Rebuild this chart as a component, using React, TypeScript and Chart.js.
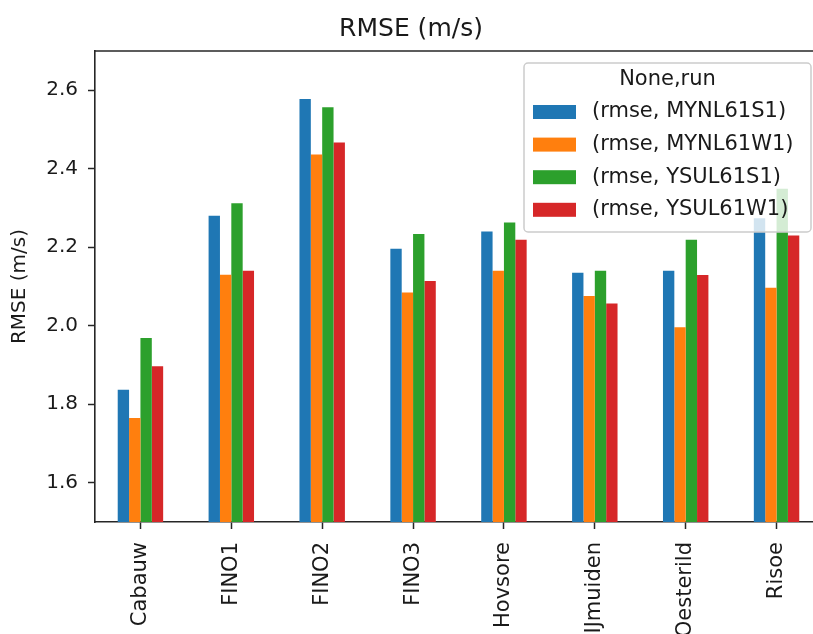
import React, { useEffect, useRef } from 'react';
import { Chart, registerables } from 'chart.js';

Chart.register(...registerables);

const categories = ['Cabauw', 'FINO1', 'FINO2', 'FINO3', 'Hovsore', 'IJmuiden', 'Oesterild', 'Risoe'];
const seriesNames = ['(rmse, MYNL61S1)', '(rmse, MYNL61W1)', '(rmse, YSUL61S1)', '(rmse, YSUL61W1)'];
const mynl61s1 = [1.837, 2.28, 2.578, 2.196, 2.24, 2.135, 2.14, 2.274];
const mynl61w1 = [1.765, 2.13, 2.436, 2.085, 2.14, 2.076, 1.996, 2.097];
const ysul61s1 = [1.969, 2.312, 2.557, 2.234, 2.263, 2.14, 2.219, 2.349];
const ysul61w1 = [1.897, 2.14, 2.467, 2.114, 2.219, 2.057, 2.129, 2.23];
const yTicks = [1.6, 1.8, 2.0, 2.2, 2.4, 2.6];
const yMin = 1.5;
const yMax = 2.7;
const legendTitle = 'None,run';
const chartTitle = 'RMSE (m/s)';
const yTitle = 'RMSE (m/s)';
const colors = ['#1f77b4', '#ff7f0e', '#2ca02c', '#d62728'];

const FONT = '"DejaVu Sans", sans-serif';
const TEXT = '#1a1a1a';
const AXIS = '#262626';

const topSpinePlugin = {
  id: 'topSpine',
  afterDatasetsDraw(chart: any) {
    const { ctx, chartArea: a } = chart;
    ctx.save();
    ctx.strokeStyle = AXIS;
    ctx.lineWidth = 1.6;
    ctx.beginPath();
    ctx.moveTo(a.left, a.top);
    ctx.lineTo(a.right + 2, a.top);
    ctx.stroke();
    ctx.restore();
  },
};

const boxLegendPlugin = {
  id: 'boxLegend',
  afterDraw(chart: any) {
    const { ctx, chartArea: a } = chart;
    const w = 287;
    const h = 169;
    const x = a.right - 11 - w;
    const y = a.top + 12;
    ctx.save();
    ctx.beginPath();
    (ctx as any).roundRect(x, y, w, h, 4);
    ctx.fillStyle = 'rgba(255,255,255,0.8)';
    ctx.fill();
    ctx.strokeStyle = '#cccccc';
    ctx.lineWidth = 1.5;
    ctx.stroke();
    ctx.font = `21px ${FONT}`;
    ctx.fillStyle = TEXT;
    ctx.textAlign = 'center';
    ctx.textBaseline = 'middle';
    ctx.fillText(legendTitle, x + w / 2, y + 17);
    chart.data.datasets.forEach((ds: any, i: number) => {
      const cy = y + 49 + i * 32.6;
      ctx.fillStyle = ds.backgroundColor;
      ctx.fillRect(x + 9, cy - 7, 43, 14);
      ctx.fillStyle = TEXT;
      ctx.textAlign = 'left';
      ctx.fillText(ds.label, x + 68, cy);
    });
    ctx.restore();
  },
};

export default function App() {
  const ref = useRef<HTMLCanvasElement>(null);
  useEffect(() => {
    const seriesValues = [mynl61s1, mynl61w1, ysul61s1, ysul61w1];
    const chart = new Chart(ref.current as HTMLCanvasElement, {
      type: 'bar',
      data: {
        labels: categories,
        datasets: seriesNames.map((name, i) => ({
          label: name,
          data: seriesValues[i],
          backgroundColor: colors[i],
          borderWidth: 0,
          categoryPercentage: 0.5,
          barPercentage: 1.0,
        })),
      },
      options: {
        animation: false,
        responsive: false,
        devicePixelRatio: 1,
        layout: { padding: { left: 0, right: 18, top: 0, bottom: 0 } },
        plugins: {
          legend: { display: false },
          tooltip: { enabled: false },
          title: {
            display: true,
            text: chartTitle,
            color: TEXT,
            font: { family: FONT, size: 25, weight: 'normal' },
            padding: { top: 14, bottom: 7 },
          },
        },
        scales: {
          x: {
            type: 'category',
            offset: true,
            grid: {
              display: true,
              offset: false,
              drawOnChartArea: false,
              drawTicks: true,
              tickLength: 7,
              tickColor: AXIS,
              tickWidth: 1.5,
            },
            border: { display: true, color: AXIS, width: 1.6 },
            ticks: {
              autoSkip: false,
              minRotation: 90,
              maxRotation: 90,
              padding: 13,
              color: TEXT,
              font: { family: FONT, size: 21 },
            },
            afterFit: (scale: any) => {
              scale.height = 112;
            },
          },
          y: {
            type: 'linear',
            min: yMin,
            max: yMax,
            grid: {
              display: true,
              drawOnChartArea: false,
              drawTicks: true,
              tickLength: 7,
              tickColor: AXIS,
              tickWidth: 1.5,
            },
            border: { display: true, color: AXIS, width: 1.6 },
            ticks: {
              padding: 10,
              color: TEXT,
              font: { family: FONT, size: 20 },
              callback: (v: any) => Number(v).toFixed(1),
            },
            afterBuildTicks: (scale: any) => {
              scale.ticks = yTicks.map((v) => ({ value: v }));
            },
            title: {
              display: true,
              text: yTitle,
              color: TEXT,
              font: { family: FONT, size: 20 },
              padding: { top: 8, bottom: 0 },
            },
            afterFit: (scale: any) => {
              scale.width = 95;
            },
          },
        },
      },
      plugins: [topSpinePlugin, boxLegendPlugin],
    } as any);
    return () => chart.destroy();
  }, []);
  return (
    <div
      style={{
        position: 'fixed',
        left: 0,
        top: 0,
        width: 813,
        height: 634,
        overflow: 'hidden',
        background: '#ffffff',
      }}
    >
      <canvas ref={ref} width={840} height={634} style={{ display: 'block', width: 840, height: 634 }} />
    </div>
  );
}
